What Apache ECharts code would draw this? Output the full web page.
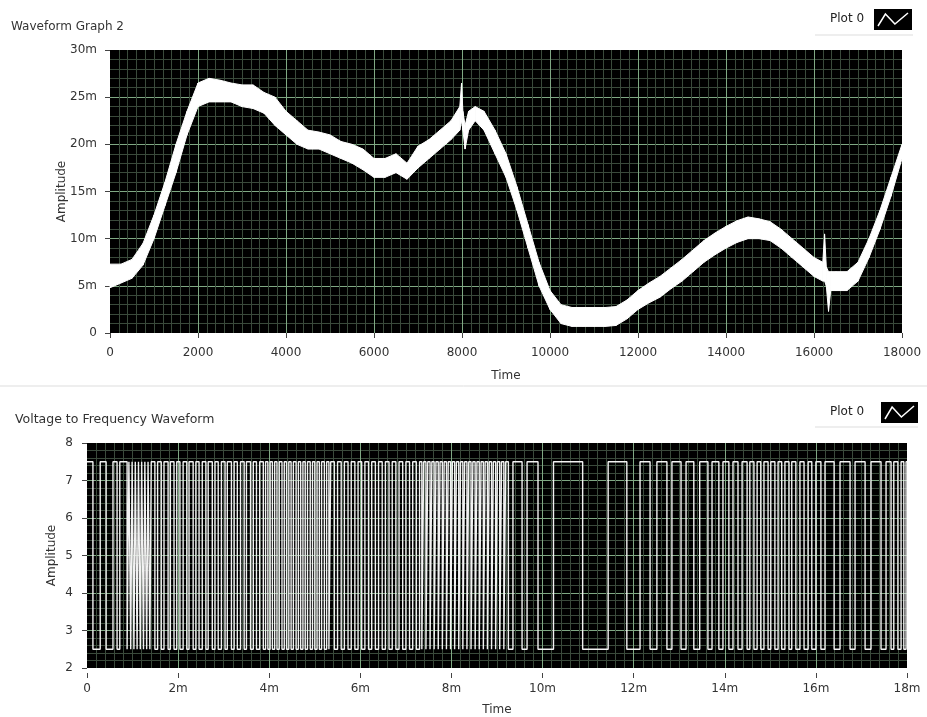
<!DOCTYPE html>
<html>
<head>
<meta charset="utf-8">
<script src="https://cdn.jsdelivr.net/npm/echarts@6/dist/echarts.min.js"></script>
<style>
  html, body { margin: 0; background: #fff; }
  #chart { width: 927px; height: 717px; }
</style>
</head>
<body>
<div id="chart"></div>
<script>
// Waveform Graph 2 : envelope of the noisy trace (time in samples, amplitude in m)
const waveTime = [
  0, 250, 500, 750, 1000, 1250, 1500, 1750, 2000, 2250, 2500, 2750, 3000, 3250, 3500, 3750,
  4000, 4250, 4500, 4750, 5000, 5250, 5500, 5750, 6000, 6250, 6500, 6750, 7000, 7250, 7500, 7750,
  7950, 7990, 8020, 8070, 8150, 8300, 8500,
  8750, 9000, 9250, 9500, 9750, 10000, 10250, 10500, 10750, 11000, 11250, 11500, 11750, 12000, 12250,
  12500, 12750, 13000, 13250, 13500, 13750, 14000, 14250, 14500, 14750, 15000, 15250, 15500, 15750, 16000,
  16200, 16240, 16280, 16330, 16380,
  16500, 16750, 17000, 17250, 17500, 17750, 18000
];
const waveLow = [
  4.8, 5.3, 5.8, 7.2, 10, 13.5, 17, 21, 24, 24.5, 24.5, 24.5, 24, 23.8, 23.3, 22,
  21, 20, 19.5, 19.5, 19, 18.5, 18, 17.3, 16.5, 16.5, 17, 16.3, 17.5, 18.5, 19.5, 20.5,
  21.5, 22.5, 21.5, 19.5, 21.5, 22.5, 21.5,
  19, 16.5, 13, 9, 5, 2.5, 1, 0.7, 0.7, 0.7, 0.7, 0.8, 1.5, 2.5, 3.2,
  3.8, 4.7, 5.5, 6.5, 7.5, 8.3, 9, 9.6, 10, 10, 9.8, 9, 8, 7, 6,
  5.5, 5.5, 5, 2.3, 4.5,
  4.5, 4.5, 5.5, 8, 11, 14.5, 18.5
];
const waveHigh = [
  7.3, 7.3, 7.8, 9.5, 12.5, 16, 20, 23.5, 26.5, 27, 26.8, 26.5, 26.3, 26.3, 25.5, 25,
  23.5, 22.5, 21.5, 21.3, 21, 20.3, 20, 19.5, 18.5, 18.5, 19, 18, 19.8, 20.5, 21.5, 22.5,
  24, 26.5, 23.5, 22, 23.5, 24, 23.5,
  21.5, 19, 15.5, 11.5, 7.5, 4.5, 3, 2.7, 2.7, 2.7, 2.7, 2.8, 3.5, 4.5, 5.3,
  6, 6.9, 7.8, 8.8, 9.8, 10.6, 11.3, 11.9, 12.3, 12.1, 11.8, 11, 10, 9, 8,
  7.5, 10.5, 7, 6.5, 6.5,
  6.5, 6.5, 7.5, 10, 13, 16.5, 20
];

// Voltage to Frequency Waveform : times (ms) where the square wave switches, starting high
const pulseLevels = [2.5, 7.5];
const pulseToggles = [
  0.13, 0.29, 0.42, 0.57, 0.66, 0.72, 0.88, 0.92,
  0.96, 0.99, 1.03, 1.06, 1.10, 1.13, 1.17, 1.20, 1.24, 1.27, 1.31, 1.34, 1.38, 1.41,
  1.49, 1.55, 1.63, 1.69, 1.78, 1.83, 1.91, 1.97, 2.04, 2.11, 2.19, 2.24, 2.33, 2.39, 2.46, 2.53,
  2.61, 2.66, 2.75, 2.81, 2.88, 2.95, 3.03, 3.08, 3.17, 3.23, 3.30, 3.37, 3.45, 3.50, 3.59, 3.65,
  3.72, 3.79, 3.87, 3.92,
  3.97, 4.02, 4.07, 4.12, 4.17, 4.22, 4.28, 4.33, 4.38, 4.43, 4.48, 4.53, 4.59, 4.64, 4.69, 4.74,
  4.79, 4.84, 4.90, 4.95, 5.00, 5.05, 5.10, 5.15, 5.21, 5.26, 5.31, 5.35,
  5.43, 5.50, 5.58, 5.65, 5.73, 5.80, 5.88, 5.95, 6.03, 6.10, 6.18, 6.25, 6.33, 6.40, 6.48, 6.55,
  6.63, 6.70, 6.78, 6.85, 6.93, 7.00, 7.08, 7.15, 7.23, 7.30,
  7.35, 7.39, 7.44, 7.48, 7.53, 7.57, 7.62, 7.66, 7.71, 7.75, 7.80, 7.84, 7.89, 7.93, 7.98, 8.02,
  8.07, 8.11, 8.16, 8.20, 8.25, 8.29, 8.34, 8.38, 8.43, 8.47, 8.52, 8.56, 8.61, 8.65, 8.70, 8.74,
  8.79, 8.83, 8.88, 8.92, 8.97, 9.01, 9.06, 9.10, 9.15, 9.19,
  9.25, 9.35, 9.55, 9.66, 9.90, 10.24, 10.88, 11.44, 11.85, 12.14, 12.36, 12.51, 12.73, 12.84,
  13.04, 13.15,
  13.32, 13.45, 13.63, 13.72, 13.87, 13.96, 14.09, 14.18, 14.29, 14.38, 14.49, 14.55, 14.64, 14.71,
  14.79, 14.86, 14.95, 15.01, 15.10, 15.17, 15.25, 15.32, 15.41, 15.47, 15.56, 15.65, 15.74, 15.83,
  15.91, 16.00, 16.11, 16.20, 16.40, 16.53, 16.75, 16.86, 17.08, 17.21, 17.43, 17.54, 17.65, 17.71,
  17.80, 17.87, 17.93, 17.98
];
const pulseEnd = 18;

const font = 'DejaVu Sans';
const textColor = '#333';
const majorGrid = '#7fa883';
const minorGrid = '#3a4a3b';

// band segments between consecutive envelope samples
const bandData = [];
for (let i = 0; i < waveTime.length - 1; i++) {
  bandData.push([waveTime[i], waveLow[i], waveHigh[i], waveTime[i + 1], waveLow[i + 1], waveHigh[i + 1]]);
}

// square wave as vertical edges
const squareData = [[0, pulseLevels[1]]];
let lvl = 1;
pulseToggles.forEach(t => {
  squareData.push([t, pulseLevels[lvl]]);
  lvl = 1 - lvl;
  squareData.push([t, pulseLevels[lvl]]);
});
squareData.push([pulseEnd, pulseLevels[lvl]]);

const milli = v => (v === 0 ? '0' : v + 'm');

function xAxisOpt(gridIndex, max, interval, minorSplit, fmt, offset, gap) {
  return {
    type: 'value', gridIndex: gridIndex, min: 0, max: max, interval: interval,
    offset: offset,
    name: 'Time', nameLocation: 'middle', nameGap: gap,
    nameTextStyle: { fontFamily: font, fontSize: 12, color: textColor },
    axisLine: { show: false },
    axisTick: { show: true, length: 5, lineStyle: { color: '#444' } },
    axisLabel: { formatter: fmt, fontFamily: font, fontSize: 12, color: textColor, margin: 10 },
    splitLine: { show: true, showMinLine: false, showMaxLine: false, lineStyle: { color: majorGrid, width: 1 } },
    minorTick: { show: false, splitNumber: minorSplit },
    minorSplitLine: { show: true, lineStyle: { color: minorGrid, width: 1 } }
  };
}
function yAxisOpt(gridIndex, min, max, interval, minorSplit, fmt, offset, gap) {
  return {
    type: 'value', gridIndex: gridIndex, min: min, max: max, interval: interval,
    offset: offset,
    name: 'Amplitude', nameLocation: 'middle', nameGap: gap, nameMoveOverlap: false,
    nameTextStyle: { fontFamily: font, fontSize: 12, color: textColor },
    axisLine: { show: false },
    axisTick: { show: true, length: 5, lineStyle: { color: '#444' } },
    axisLabel: { formatter: fmt, fontFamily: font, fontSize: 12, color: textColor, margin: 9 },
    splitLine: { show: true, showMinLine: false, showMaxLine: false, lineStyle: { color: majorGrid, width: 1 } },
    minorTick: { show: false, splitNumber: minorSplit },
    minorSplitLine: { show: true, lineStyle: { color: minorGrid, width: 1 } }
  };
}

function legendIcon(x, y, w, h) {
  return [
    { type: 'rect', shape: { x: x, y: y, width: w, height: h }, style: { fill: '#000' } },
    {
      type: 'polyline',
      shape: { points: [[x + 4, y + h - 4], [x + w * 0.3, y + 5], [x + w * 0.55, y + h - 6], [x + w - 4, y + 4]] },
      style: { stroke: '#fff', lineWidth: 1.5, fill: null }
    }
  ];
}

const chart = echarts.init(document.getElementById('chart'));
const option = {
  animation: false,
  backgroundColor: '#fff',
  title: [
    { text: 'Waveform Graph 2', left: 6, top: 16,
      textStyle: { fontFamily: font, fontSize: 12, fontWeight: 'normal', color: textColor } },
    { text: 'Voltage to Frequency Waveform', left: 10, top: 408,
      textStyle: { fontFamily: font, fontSize: 12.5, fontWeight: 'normal', color: textColor } }
  ],
  grid: [
    { left: 110, right: 25, top: 50, height: 283, show: true, backgroundColor: '#000', borderWidth: 0 },
    { left: 87, right: 20, top: 443, height: 227, show: true, backgroundColor: '#000', borderWidth: 0 }
  ],
  xAxis: [
    xAxisOpt(0, 18000, 2000, 10, v => String(v), 4, 33),
    xAxisOpt(1, 18, 2, 10, milli, 5, 31)
  ],
  yAxis: [
    yAxisOpt(0, 0, 30, 5, 5, milli, 4, 38),
    yAxisOpt(1, 2, 8, 1, 5, v => String(v), 5, 24)
  ],
  series: [
    {
      name: 'Plot 0', type: 'custom', xAxisIndex: 0, yAxisIndex: 0,
      data: bandData, silent: true,
      encode: { x: [0, 3], y: [1, 2, 4, 5] },
      renderItem: function (params, api) {
        const pts = [
          api.coord([api.value(0), api.value(1)]),
          api.coord([api.value(0), api.value(2)]),
          api.coord([api.value(3), api.value(5)]),
          api.coord([api.value(3), api.value(4)])
        ];
        return { type: 'polygon', shape: { points: pts }, style: { fill: '#fff', stroke: '#fff', lineWidth: 1 } };
      }
    },
    {
      name: 'Plot 0', type: 'line', xAxisIndex: 1, yAxisIndex: 1,
      data: squareData, symbol: 'none', silent: true,
      lineStyle: { color: '#f2f2f2', width: 1.4 }
    }
  ],
  graphic: [
    { type: 'text', left: 830, top: 13, style: { text: 'Plot 0', font: '12px "DejaVu Sans"', fill: '#222' } },
    ...legendIcon(874, 9, 38, 21),
    { type: 'line', shape: { x1: 815, y1: 35, x2: 913, y2: 35 }, style: { stroke: '#ddd', lineWidth: 1 } },
    { type: 'line', shape: { x1: 0, y1: 386, x2: 927, y2: 386 }, style: { stroke: '#ddd', lineWidth: 1 } },
    { type: 'text', left: 830, top: 406, style: { text: 'Plot 0', font: '12px "DejaVu Sans"', fill: '#222' } },
    ...legendIcon(881, 402, 37, 21),
    { type: 'line', shape: { x1: 815, y1: 427, x2: 918, y2: 427 }, style: { stroke: '#ddd', lineWidth: 1 } }
  ]
};
chart.setOption(option);
</script>
</body>
</html>
